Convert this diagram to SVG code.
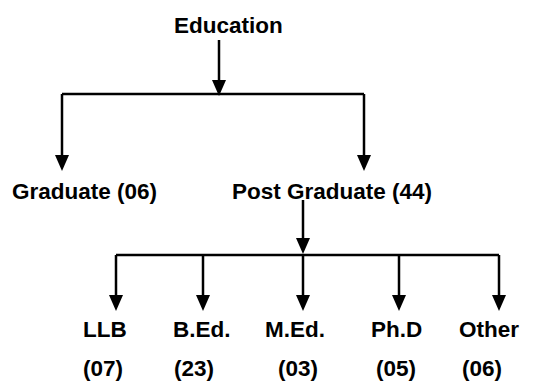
<svg xmlns="http://www.w3.org/2000/svg" width="551" height="383" viewBox="0 0 551 383">
<style>
text{font-family:"Liberation Sans",Arial,sans-serif;font-weight:bold;font-size:22.5px;fill:#000}
.c{fill:none;stroke:#000;stroke-width:2.5}
</style>
<defs>
<marker id="ah" markerUnits="userSpaceOnUse" markerWidth="16" markerHeight="14" viewBox="0 0 16 14" refX="12" refY="7" orient="auto">
<path d="M0,0 L16,7 L0,14 Z" fill="#000"/>
</marker>
</defs>
<rect width="551" height="383" fill="#fff"/>
<g id="connectors">
<path class="c" d="M219,40 V92" marker-end="url(#ah)"/>
<path class="c" d="M62,94 H364"/>
<path class="c" d="M62,94 V167" marker-end="url(#ah)"/>
<path class="c" d="M364,94 V167" marker-end="url(#ah)"/>
<path class="c" d="M303,200 V250" marker-end="url(#ah)"/>
<path class="c" d="M116,255 H499"/>
<path class="c" d="M116,255 V307" marker-end="url(#ah)"/>
<path class="c" d="M203,255 V307" marker-end="url(#ah)"/>
<path class="c" d="M303,255 V307" marker-end="url(#ah)"/>
<path class="c" d="M399,255 V307" marker-end="url(#ah)"/>
<path class="c" d="M499,255 V307" marker-end="url(#ah)"/>
</g>
<g id="education"><text x="174" y="33">Education</text></g>
<g id="graduate"><text x="12" y="199">Graduate (06)</text></g>
<g id="postgraduate"><text x="232" y="199">Post Graduate (44)</text></g>
<g id="llb"><text x="83" y="337">LLB</text><text x="83" y="376">(07)</text></g>
<g id="bed"><text x="173" y="337">B.Ed.</text><text x="174" y="376">(23)</text></g>
<g id="med"><text x="265" y="337">M.Ed.</text><text x="278" y="376">(03)</text></g>
<g id="phd"><text x="371" y="337">Ph.D</text><text x="376" y="376">(05)</text></g>
<g id="other"><text x="459" y="337">Other</text><text x="462" y="376">(06)</text></g>
</svg>
